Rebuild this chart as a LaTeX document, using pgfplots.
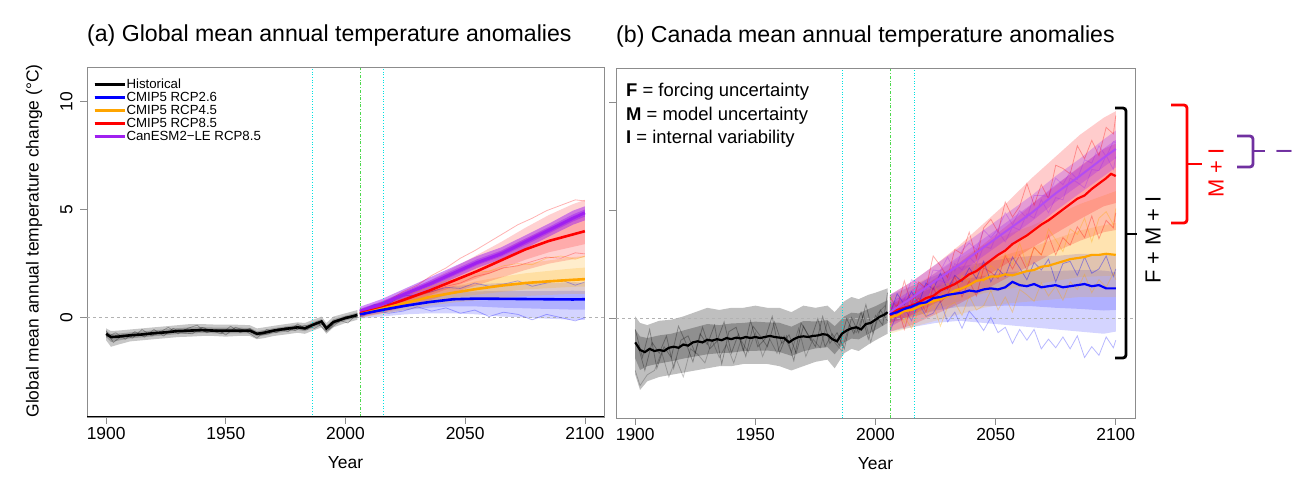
\documentclass[border=0pt]{standalone}
\usepackage{pgfplots}
\pgfplotsset{compat=1.18}
\usepackage{pgfplotstable}
\usepgfplotslibrary{fillbetween}
\usepackage{fontspec}
\setmainfont{Liberation Sans}

\definecolor{c26}{RGB}{0,0,255}
\definecolor{c45}{RGB}{255,165,0}
\definecolor{c85}{RGB}{255,0,0}
\definecolor{cle}{RGB}{160,32,240}
\definecolor{brpurple}{RGB}{112,48,160}
\definecolor{cyanl}{RGB}{0,225,225}
\definecolor{greenl}{RGB}{0,200,0}

% ---------------- Panel (a): global ----------------
\pgfplotstableread{
yr mean lo hi
1900 -0.75 -1.05 -0.50
1902 -0.90 -1.35 -0.62
1905 -0.88 -1.25 -0.60
1910 -0.82 -1.10 -0.55
1915 -0.78 -1.05 -0.50
1920 -0.72 -1.00 -0.45
1925 -0.68 -0.95 -0.40
1930 -0.62 -0.90 -0.35
1935 -0.60 -0.88 -0.30
1940 -0.58 -0.85 -0.30
1945 -0.60 -0.85 -0.32
1950 -0.60 -0.88 -0.32
1955 -0.60 -0.85 -0.33
1960 -0.60 -0.85 -0.35
1963 -0.75 -1.00 -0.50
1966 -0.70 -0.95 -0.45
1970 -0.60 -0.85 -0.38
1975 -0.52 -0.78 -0.30
1980 -0.45 -0.70 -0.22
1983 -0.50 -0.75 -0.25
1986 -0.35 -0.62 -0.12
1990 -0.18 -0.45 0.05
1992 -0.50 -0.75 -0.25
1995 -0.20 -0.45 0.05
2000 -0.02 -0.25 0.20
2005 0.12 -0.10 0.35
}\histA
\pgfplotstableread{
yr mean lo hi
2006 0.15 -0.05 0.35
2015 0.35 0.05 0.60
2025 0.55 0.15 0.95
2035 0.72 0.20 1.25
2045 0.85 0.20 1.45
2055 0.88 0.15 1.55
2065 0.87 0.05 1.60
2075 0.86 0.00 1.60
2085 0.85 -0.05 1.60
2095 0.84 -0.10 1.65
2100 0.85 -0.10 1.60
}\rcpA
\pgfplotstableread{
yr mean lo hi
2006 0.15 0.00 0.35
2015 0.40 0.15 0.65
2025 0.68 0.35 1.05
2035 0.95 0.55 1.40
2045 1.15 0.70 1.75
2055 1.33 0.80 2.05
2065 1.48 0.90 2.30
2075 1.60 1.00 2.50
2085 1.68 1.05 2.65
2095 1.75 1.10 2.80
2100 1.78 1.10 2.85
}\rcpB
\pgfplotstableread{
yr mean lo hi
2006 0.20 0.00 0.40
2015 0.45 0.20 0.75
2025 0.85 0.50 1.20
2035 1.25 0.80 1.70
2045 1.70 1.15 2.30
2055 2.15 1.50 2.90
2065 2.65 1.85 3.50
2075 3.15 2.20 4.15
2085 3.55 2.50 4.75
2095 3.85 2.70 5.25
2100 4.00 2.80 5.45
}\rcpC
\pgfplotstableread{
yr mean lo hi
2006 0.30 0.10 0.50
2015 0.62 0.40 0.85
2025 1.10 0.85 1.35
2035 1.55 1.30 1.85
2045 2.05 1.80 2.35
2055 2.55 2.30 2.85
2065 2.95 2.70 3.25
2075 3.50 3.20 3.80
2085 4.05 3.75 4.35
2095 4.60 4.30 4.95
2100 4.85 4.50 5.15
}\leA

% ---------------- Panel (b): Canada ----------------
\pgfplotstableread{
yr mean lo hi
1900 -1.10 -2.60 0.10
1902 -1.45 -3.30 -0.20
1905 -1.50 -2.90 -0.30
1910 -1.45 -2.70 -0.10
1915 -1.35 -2.60 -0.05
1920 -1.20 -2.50 0.10
1925 -1.10 -2.40 0.30
1930 -1.00 -2.30 0.50
1935 -1.00 -2.20 0.40
1940 -0.95 -2.20 0.50
1945 -0.90 -2.10 0.50
1950 -0.88 -2.10 0.60
1955 -0.85 -2.10 0.50
1960 -0.88 -2.20 0.50
1965 -1.05 -2.40 0.30
1970 -0.82 -2.20 0.60
1975 -0.76 -2.00 0.50
1980 -0.74 -1.90 0.60
1983 -1.00 -2.30 0.30
1987 -0.60 -1.60 0.80
1990 -0.45 -1.40 1.00
1993 -0.42 -1.50 0.90
1997 -0.22 -1.20 1.10
2000 -0.05 -1.00 1.20
2005 0.30 -0.70 1.40
}\histB
\pgfplotstableread{
yr mean lo hi
2006 0.20 -0.60 1.10
2015 0.55 -0.40 1.50
2025 0.95 -0.20 2.00
2035 1.20 -0.10 2.40
2045 1.35 -0.20 2.60
2055 1.50 -0.30 2.80
2065 1.55 -0.40 2.90
2075 1.50 -0.50 2.90
2085 1.50 -0.60 3.00
2095 1.45 -0.70 3.00
2100 1.40 -0.60 2.90
}\rcpBa
\pgfplotstableread{
yr mean lo hi
2006 0.10 -0.70 1.00
2015 0.50 -0.40 1.50
2025 0.95 -0.10 2.10
2035 1.40 0.20 2.80
2045 1.85 0.50 3.40
2055 2.05 0.70 3.90
2065 2.30 0.80 4.30
2075 2.60 0.90 4.80
2085 2.85 1.00 5.30
2095 2.95 1.00 5.70
2100 2.95 1.00 5.90
}\rcpBb
\pgfplotstableread{
yr mean lo hi
2006 0.20 -0.60 1.10
2015 0.60 -0.30 1.70
2025 1.25 0.20 2.50
2035 1.80 0.70 3.40
2045 2.50 1.30 4.40
2055 3.25 1.90 5.40
2065 4.05 2.50 6.50
2075 4.80 3.10 7.50
2085 5.60 3.60 8.50
2095 6.40 4.00 9.30
2100 6.60 4.10 9.60
}\rcpBc
\pgfplotstableread{
yr mean lo hi
2006 0.30 -0.40 1.10
2015 0.95 0.20 1.70
2025 1.75 1.00 2.50
2035 2.50 1.70 3.30
2045 3.30 2.50 4.10
2055 4.10 3.30 4.90
2065 4.90 4.10 5.70
2075 5.80 5.00 6.60
2085 6.60 5.80 7.40
2095 7.45 6.60 8.30
2100 7.85 7.00 8.70
}\leB

\pgfplotstableread{
yr t
1900 -1.10
1902 -1.45
1904 -1.55
1906 -1.40
1908 -1.50
1910 -1.45
1912 -1.50
1914 -1.35
1916 -1.30
1918 -1.35
1920 -1.20
1922 -1.25
1924 -1.10
1926 -1.05
1928 -1.10
1930 -0.98
1932 -1.02
1934 -0.95
1936 -1.00
1938 -0.90
1940 -0.95
1942 -0.88
1944 -0.92
1946 -0.85
1948 -0.90
1950 -0.85
1952 -0.90
1954 -0.85
1956 -0.80
1958 -0.85
1960 -0.88
1962 -0.90
1964 -1.10
1966 -0.95
1968 -0.85
1970 -0.82
1972 -0.85
1974 -0.80
1976 -0.78
1978 -0.72
1980 -0.75
1982 -0.95
1984 -1.05
1986 -0.70
1988 -0.55
1990 -0.45
1992 -0.40
1994 -0.50
1996 -0.25
1998 -0.20
2000 -0.05
2002 0.10
2004 0.20
2005 0.30
}\histBmean
\pgfplotstableread{
yr t
2006 0.20
2009 0.30
2012 0.45
2015 0.55
2018 0.70
2021 0.75
2024 0.95
2027 1.00
2030 1.10
2033 1.15
2036 1.20
2039 1.30
2042 1.25
2045 1.35
2048 1.40
2051 1.35
2054 1.45
2057 1.70
2060 1.55
2063 1.50
2066 1.60
2069 1.45
2072 1.50
2075 1.55
2078 1.45
2081 1.50
2084 1.55
2087 1.60
2090 1.50
2093 1.55
2096 1.40
2100 1.40
}\meanBa
\pgfplotstableread{
yr t
2006 0.05
2009 0.15
2012 0.35
2015 0.40
2018 0.55
2021 0.70
2024 0.80
2027 0.90
2030 1.05
2033 1.30
2036 1.40
2039 1.55
2042 1.75
2045 1.80
2048 1.95
2051 1.95
2054 2.05
2057 2.00
2060 2.10
2063 2.20
2066 2.25
2069 2.40
2072 2.45
2075 2.55
2078 2.65
2081 2.75
2084 2.80
2087 2.85
2090 2.95
2093 2.95
2096 3.00
2100 2.95
}\meanBb
\pgfplotstableread{
yr t
2006 0.15
2009 0.40
2012 0.50
2015 0.60
2018 0.75
2021 0.95
2024 1.05
2027 1.30
2030 1.45
2033 1.60
2036 1.80
2039 2.05
2042 2.20
2045 2.45
2048 2.70
2051 2.95
2054 3.15
2057 3.45
2060 3.65
2063 3.85
2066 4.10
2069 4.35
2072 4.55
2075 4.80
2078 5.05
2081 5.30
2084 5.55
2087 5.70
2090 6.00
2093 6.25
2096 6.50
2098 6.70
2100 6.60
}\meanBc

\newcommand{\band}[4]{%
  \addplot[name path=#4lo, draw=none, forget plot] table[x=yr,y=lo]{#1};
  \addplot[name path=#4hi, draw=none, forget plot] table[x=yr,y=hi]{#1};
  \addplot[fill=#2, fill opacity=#3, draw=none, forget plot] fill between[of=#4hi and #4lo];
  \addplot[name path=#4ilo, draw=none, forget plot] table[x=yr,y expr={\thisrow{mean}+0.5*(\thisrow{lo}-\thisrow{mean})}]{#1};
  \addplot[name path=#4ihi, draw=none, forget plot] table[x=yr,y expr={\thisrow{mean}+0.5*(\thisrow{hi}-\thisrow{mean})}]{#1};
  \addplot[fill=#2, fill opacity=#3, draw=none, forget plot] fill between[of=#4ihi and #4ilo];
}

\pgfplotsset{
  panel/.style={
    scale only axis, height=350bp,
    xmin=1892, xmax=2108, ymin=-4.6, ymax=11.6,
    xtick={1900,1950,2000,2050,2100}, ytick={0,5,10},
    xtick pos=left, ytick pos=left,
    axis line style={black!45, line width=0.7bp},
    tick style={black!45, line width=0.7bp},
    tick align=outside, major tick length=7bp,
    tick label style={font=\fontsize{17.5}{20}\selectfont},
    /pgf/number format/assume math mode=true,
    /pgf/number format/1000 sep={},
    yticklabel style={xshift=-4bp, rotate=90, anchor=south},
    clip=false,
  },
  refl/.style={forget plot},
  memb/.style={forget plot, line width=0.8bp, opacity=#1},
}

\begin{document}
\begin{tikzpicture}
\path (0bp,0bp) rectangle (1304bp,489bp);

% ================= (a) =================
\begin{axis}[panel, at={(87bp,72bp)}, anchor=south west, width=517bp,
  legend style={at={(0.012,0.969)}, anchor=north west, draw=none, fill=none,
    font=\fontsize{13.3}{13}\selectfont, row sep=0bp, inner sep=0bp,
    nodes={inner sep=0.5bp, text height=9.6bp, text depth=2.4bp}},
  legend cell align=left,
  legend image code/.code={\draw[#1] (0bp,0bp) -- (21bp,0bp); \path (0bp,0bp) -- (30bp,0bp);},
]
\addlegendimage{black, line width=2.6bp}\addlegendentry{Historical}
\addlegendimage{c26, line width=2.6bp}\addlegendentry{CMIP5 RCP2.6}
\addlegendimage{c45, line width=2.6bp}\addlegendentry{CMIP5 RCP4.5}
\addlegendimage{c85, line width=2.6bp}\addlegendentry{CMIP5 RCP8.5}
\addlegendimage{cle, line width=2.6bp}\addlegendentry{CanESM2−LE RCP8.5}

\addplot[refl, black!30, dashed, line width=0.6bp] coordinates {(1892,0) (2108,0)};
\addplot[refl, cyanl, dotted, line width=0.7bp] coordinates {(1986,-4.6) (1986,11.6)};
\addplot[refl, cyanl, dotted, line width=0.7bp] coordinates {(2016,-4.6) (2016,11.6)};
\addplot[refl, greenl!70, dash dot, line width=0.7bp] coordinates {(2006,-4.6) (2006,11.6)};

\band{\histA}{black}{0.22}{ha}
\addplot[memb=0.3, black] coordinates {(1900,-0.6) (1903,-1.15) (1907,-0.8) (1911,-0.95) (1915,-0.55) (1919,-0.85) (1922,-0.7) (1926,-0.45) (1930,-0.75) (1934,-0.5) (1938,-0.35) (1942,-0.7) (1946,-0.55) (1950,-0.8) (1954,-0.45) (1958,-0.6) (1963,-0.95) (1967,-0.55) (1971,-0.7) (1975,-0.45) (1979,-0.6) (1983,-0.35) (1987,-0.5) (1991,-0.25) (1993,-0.55) (1997,-0.1) (2001,-0.25) (2005,0.2)};
\addplot[memb=0.3, black] coordinates {(1900,-0.9) (1904,-0.7) (1908,-1.0) (1912,-0.65) (1916,-0.9) (1920,-0.55) (1924,-0.85) (1928,-0.5) (1932,-0.7) (1936,-0.75) (1940,-0.45) (1944,-0.6) (1948,-0.75) (1952,-0.4) (1956,-0.7) (1960,-0.5) (1964,-0.8) (1968,-0.75) (1972,-0.5) (1976,-0.65) (1980,-0.3) (1984,-0.55) (1988,-0.2) (1992,-0.65) (1996,-0.3) (2000,0.05) (2005,0.0)};
\band{\rcpA}{c26}{0.17}{ba}
\band{\rcpB}{c45}{0.2}{oa}
\band{\rcpC}{c85}{0.18}{ra}
\addplot[memb=0.3, c26] coordinates {(2006,0.0) (2012,0.35) (2018,0.2) (2024,0.3) (2030,0.5) (2036,0.3) (2042,0.45) (2048,0.2) (2054,0.35) (2060,0.05) (2066,0.25) (2072,0.15) (2078,-0.1) (2084,0.15) (2090,0.0) (2096,-0.15) (2100,0.0)};
\addplot[memb=0.3, c26] coordinates {(2006,0.3) (2012,0.6) (2018,0.65) (2024,1.0) (2030,1.05) (2036,1.2) (2042,1.4) (2048,1.35) (2054,1.6) (2060,1.45) (2066,1.55) (2072,1.7) (2078,1.45) (2084,1.6) (2090,1.75) (2096,1.5) (2100,1.65)};
\addplot[memb=0.35, c45] coordinates {(2006,0.2) (2012,0.55) (2018,0.55) (2024,1.05) (2030,1.2) (2036,1.45) (2042,1.7) (2048,1.8) (2054,2.1) (2060,2.15) (2066,2.4) (2072,2.5) (2078,2.45) (2084,2.75) (2090,2.85) (2096,2.7) (2100,2.85)};
\addplot[memb=0.3, c85] coordinates {(2006,0.3) (2012,0.55) (2018,0.8) (2024,1.2) (2030,1.5) (2036,1.95) (2042,2.3) (2048,2.75) (2054,3.1) (2060,3.5) (2066,3.9) (2072,4.3) (2078,4.6) (2084,4.95) (2090,5.2) (2096,5.45) (2100,5.4)};
\addplot[memb=0.3, c85] coordinates {(2006,0.05) (2012,0.35) (2018,0.6) (2024,0.75) (2030,1.0) (2036,1.2) (2042,1.45) (2048,1.6) (2054,1.9) (2060,2.05) (2066,2.3) (2072,2.4) (2078,2.6) (2084,2.8) (2090,2.75) (2096,3.0) (2100,2.95)};
\band{\leA}{cle}{0.5}{pa}

\addplot[forget plot, cle, line width=3bp] table[x=yr,y=mean]{\leA};
\addplot[forget plot, c85, line width=2.6bp] table[x=yr,y=mean]{\rcpC};
\addplot[forget plot, c45, line width=2.6bp] table[x=yr,y=mean]{\rcpB};
\addplot[forget plot, c26, line width=2.6bp] table[x=yr,y=mean]{\rcpA};
\addplot[forget plot, black, line width=2.6bp] table[x=yr,y=mean]{\histA};

\draw[black, line width=1bp] (rel axis cs:0,0) -- (rel axis cs:1,0);
\node[anchor=base west, inner sep=0pt, font=\fontsize{23.2}{27}\selectfont] at (rel axis cs:0,1) [yshift=25bp] {(a) Global mean annual temperature anomalies};
\node[anchor=base, font=\fontsize{17.5}{20}\selectfont] at (rel axis cs:0.5,0) [yshift=-51bp] {Year};
\end{axis}

% ================= (b) =================
\begin{axis}[panel, at={(616bp,71bp)}, anchor=south west, width=519bp, yticklabels={}]
\addplot[refl, black!30, dashed, line width=0.6bp] coordinates {(1892,0) (2108,0)};
\addplot[refl, cyanl, dotted, line width=0.7bp] coordinates {(1986,-4.6) (1986,11.6)};
\addplot[refl, cyanl, dotted, line width=0.7bp] coordinates {(2016,-4.6) (2016,11.6)};
\addplot[refl, greenl!70, dash dot, line width=0.7bp] coordinates {(2006,-4.6) (2006,11.6)};

\band{\histB}{black}{0.25}{hb}
\addplot[memb=0.3, black] coordinates {(1900,-0.5) (1903,-1.8) (1906,-0.5) (1909,-2.3) (1912,-1.3) (1915,-1.8) (1918,-0.35) (1921,-1.1) (1924,-2.0) (1927,-0.7) (1930,-1.2) (1933,-0.3) (1936,-2.1) (1939,-0.6) (1942,-0.4) (1945,-1.5) (1948,-0.1) (1951,-1.3) (1954,-0.95) (1957,0.1) (1960,-1.6) (1963,-0.8) (1966,-1.95) (1969,-0.2) (1972,-0.75) (1975,-1.3) (1978,0.1) (1981,-1.15) (1984,-0.65) (1987,-1.4) (1990,0.05) (1993,-0.65) (1996,0.65) (1999,-0.7) (2002,0.4) (2005,-0.1)};
\addplot[memb=0.3, black] coordinates {(1901,-1.2) (1904,-2.4) (1907,-1.1) (1910,-1.6) (1913,-0.8) (1916,-2.3) (1919,-1.0) (1922,-0.8) (1925,-1.6) (1928,-0.4) (1931,-1.4) (1934,-1.05) (1937,-0.15) (1940,-1.6) (1943,-0.7) (1946,-1.75) (1949,-0.35) (1952,-0.8) (1955,-1.3) (1958,-0.15) (1961,-1.15) (1964,-0.75) (1967,-1.6) (1970,-0.35) (1973,-1.0) (1976,0.0) (1979,-1.3) (1982,-0.7) (1985,-1.25) (1988,0.0) (1991,-0.7) (1994,0.3) (1997,-0.95) (2000,0.15) (2003,-0.3) (2005,1.2)};
\addplot[memb=0.22, black] coordinates {(1900,-2.4) (1902,-3.1) (1905,-2.6) (1908,-2.4) (1911,-1.55) (1914,-2.7) (1917,-1.85) (1920,-2.7) (1923,-1.4) (1926,-1.65) (1929,-2.05) (1932,-1.0) (1935,-1.8) (1938,-1.2) (1941,-2.05) (1944,-1.0) (1947,-1.55) (1950,-0.65) (1953,-1.75) (1956,-0.95) (1959,-1.6) (1962,-0.8) (1965,-1.55) (1968,-0.45) (1971,-1.75) (1974,-0.95) (1977,-1.35) (1980,-0.15) (1983,-1.1) (1986,-1.5) (1989,-0.3) (1992,-0.65) (1995,0.2) (1998,-1.1) (2001,0.25) (2004,0.6)};
\band{\rcpBa}{c26}{0.17}{bb}
\band{\rcpBb}{c45}{0.17}{ob}
\band{\rcpBc}{c85}{0.2}{rb}
\addplot[memb=0.35, c26] coordinates {(2006,0.2) (2009,1.15) (2012,0.65) (2015,1.25) (2018,0.7) (2021,1.65) (2024,1.35) (2027,2.1) (2030,1.35) (2033,2.0) (2036,1.7) (2039,2.35) (2042,1.85) (2045,2.65) (2048,1.7) (2051,2.3) (2054,1.95) (2057,2.85) (2060,2.35) (2063,1.8) (2066,2.6) (2069,2.25) (2072,2.75) (2075,1.7) (2078,2.55) (2081,2.65) (2084,2.0) (2087,2.85) (2090,2.1) (2093,2.3) (2096,2.9) (2099,1.95) (2100,2.3)};
\addplot[memb=0.28, c26] coordinates {(2006,-0.6) (2009,0.25) (2012,0.5) (2015,-0.1) (2018,0.75) (2021,0.1) (2024,0.25) (2027,0.8) (2030,-0.15) (2033,0.3) (2036,-0.45) (2039,0.35) (2042,-0.05) (2045,-0.55) (2048,0.05) (2051,-0.65) (2054,-0.4) (2057,-1.15) (2060,-0.5) (2063,-1.0) (2066,-0.5) (2069,-1.4) (2072,-0.95) (2075,-1.35) (2078,-0.85) (2081,-1.4) (2084,-0.8) (2087,-1.8) (2090,-1.3) (2093,-1.7) (2096,-0.85) (2099,-1.35) (2100,-1.0)};
\addplot[memb=0.35, c45] coordinates {(2006,-0.3) (2009,0.5) (2012,-0.2) (2015,1.05) (2018,0.85) (2021,0.6) (2024,1.65) (2027,1.0) (2030,1.65) (2033,0.95) (2036,2.0) (2039,1.7) (2042,2.6) (2045,1.7) (2048,2.45) (2051,2.15) (2054,3.0) (2057,2.5) (2060,3.5) (2063,2.45) (2066,3.3) (2069,2.95) (2072,4.15) (2075,3.65) (2078,3.1) (2081,4.15) (2084,3.9) (2087,4.65) (2090,3.55) (2093,4.65) (2096,4.95) (2099,4.35) (2100,5.1)};
\addplot[memb=0.35, c45] coordinates {(2006,-0.4) (2009,0.55) (2012,0.1) (2015,-0.45) (2018,0.4) (2021,0.1) (2024,0.7) (2027,-0.35) (2030,0.55) (2033,0.75) (2036,0.15) (2039,1.05) (2042,0.4) (2045,0.6) (2048,1.3) (2051,0.4) (2054,1.0) (2057,0.3) (2060,1.35) (2063,1.1) (2066,0.8) (2069,1.65) (2072,1.05) (2075,1.5) (2078,0.85) (2081,1.7) (2084,1.35) (2087,2.05) (2090,1.2) (2093,1.8) (2096,1.45) (2099,2.1) (2100,1.8)};
\addplot[memb=0.32, c85] coordinates {(2006,1.0) (2009,0.5) (2012,1.75) (2015,0.65) (2018,1.7) (2021,1.4) (2024,2.9) (2027,2.45) (2030,1.9) (2033,3.2) (2036,3.0) (2039,4.0) (2042,2.8) (2045,4.2) (2048,4.6) (2051,4.0) (2054,5.4) (2057,4.7) (2060,5.2) (2063,6.25) (2066,5.25) (2069,6.2) (2072,5.55) (2075,7.1) (2078,6.95) (2081,6.7) (2084,8.0) (2087,7.4) (2090,8.25) (2093,7.55) (2096,8.85) (2099,8.55) (2100,9.4)};
\addplot[memb=0.32, c85] coordinates {(2006,-0.15) (2009,0.65) (2012,-0.5) (2015,0.65) (2018,0.95) (2021,0.3) (2024,1.45) (2027,0.75) (2030,1.1) (2033,1.95) (2036,1.0) (2039,1.75) (2042,1.05) (2045,2.35) (2048,2.15) (2051,1.85) (2054,2.9) (2057,2.3) (2060,2.95) (2063,2.25) (2066,3.3) (2069,2.95) (2072,3.85) (2075,2.95) (2078,3.75) (2081,3.4) (2084,4.25) (2087,3.75) (2090,4.75) (2093,3.7) (2096,4.55) (2099,4.2) (2100,4.9)};
\band{\leB}{cle}{0.28}{pb}
\addplot[memb=0.3, cle] coordinates {(2006,0.2) (2009,0.95) (2012,0.85) (2015,1.8) (2018,1.6) (2021,1.35) (2024,2.25) (2027,2.2) (2030,2.85) (2033,2.2) (2036,3.15) (2039,3.5) (2042,3.2) (2045,4.1) (2048,3.75) (2051,4.15) (2054,4.9) (2057,4.35) (2060,5.0) (2063,4.65) (2066,5.7) (2069,5.7) (2072,5.65) (2075,6.5) (2078,6.2) (2081,6.8) (2084,6.45) (2087,7.35) (2090,7.2) (2093,8.0) (2096,7.5) (2099,8.2) (2100,8.15)};
\addplot[memb=0.3, cle] coordinates {(2006,-0.2) (2009,0.2) (2012,0.95) (2015,0.35) (2018,1.05) (2021,0.7) (2024,1.75) (2027,1.75) (2030,1.65) (2033,2.55) (2036,2.25) (2039,2.85) (2042,2.5) (2045,3.35) (2048,3.25) (2051,4.05) (2054,3.55) (2057,4.25) (2060,4.1) (2063,4.85) (2066,4.65) (2069,5.5) (2072,4.9) (2075,5.6) (2078,5.5) (2081,6.5) (2084,6.3) (2087,6.05) (2090,6.9) (2093,6.85) (2096,7.55) (2099,6.9) (2100,7.5)};

\addplot[forget plot, cle!80, line width=2bp] table[x=yr,y=mean]{\leB};
\addplot[forget plot, c85, line width=2.2bp] table[x=yr,y=t]{\meanBc};
\addplot[forget plot, c45, line width=2.2bp] table[x=yr,y=t]{\meanBb};
\addplot[forget plot, c26, line width=2.2bp] table[x=yr,y=t]{\meanBa};
\addplot[forget plot, black, line width=2.2bp] table[x=yr,y=t]{\histBmean};

\node[anchor=base west, inner sep=0pt, font=\fontsize{23.2}{27}\selectfont] at (rel axis cs:0,1) [yshift=25bp] {(b) Canada mean annual temperature anomalies};
\node[anchor=base, font=\fontsize{17.5}{20}\selectfont] at (rel axis cs:0.5,0) [yshift=-51bp] {Year};
\end{axis}

% ---- annotations ----
\begin{scope}[x=1bp, y=1bp]
\node[rotate=90, font=\fontsize{17.5}{20}\selectfont] at (34,248) {Global mean annual temperature change (°C)};
\begin{scope}[font=\fontsize{18.5}{22}\selectfont]
\node[anchor=base west, inner sep=0pt] at (626,392) {\textbf{F} = forcing uncertainty};
\node[anchor=base west, inner sep=0pt] at (626,369) {\textbf{M} = model uncertainty};
\node[anchor=base west, inner sep=0pt] at (626,345.5) {\textbf{I} = internal variability};
\end{scope}

\draw[black, line width=2.8bp, rounded corners=3bp] (1115,381) -- (1126,381) -- (1126,131) -- (1115,131);
\draw[black, line width=2.8bp] (1126,255) -- (1137,255);
\node[rotate=90, font=\fontsize{22}{26}\selectfont] at (1153,249) {F + M + I};

\draw[c85, line width=2.8bp, rounded corners=3bp] (1171,384) -- (1187,384) -- (1187,266) -- (1171,266);
\draw[c85, line width=2.8bp] (1187,325) -- (1202,325);
\node[rotate=90, text=c85, font=\fontsize{22}{26}\selectfont] at (1216,316) {M + I};

\draw[brpurple, line width=2.8bp, rounded corners=3bp] (1237,353) -- (1253,353) -- (1253,322) -- (1237,322);
\draw[brpurple, line width=2.8bp] (1253,338) -- (1265,338);
\node[rotate=90, text=brpurple, font=\fontsize{22}{26}\selectfont] at (1284,338) {I};
\end{scope}
\end{tikzpicture}
\end{document}
